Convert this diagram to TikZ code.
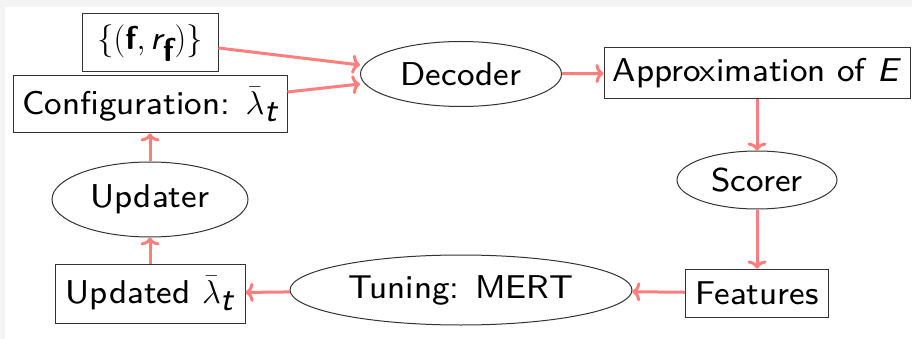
\RequirePackage{fix-cm}
\documentclass[tikz,border=0pt]{standalone}
\usepackage{fontspec}
\setsansfont{lmsans8-regular.otf}[BoldFont=lmsans10-bold.otf, ItalicFont=lmsans8-oblique.otf]
\usetikzlibrary{shapes.geometric,arrows.meta}
\definecolor{arr}{RGB}{255,125,125}
\definecolor{frame}{RGB}{244,244,244}
\newcommand{\lbt}{$\bar{\lambda}_{\textsf{\itshape t}}$}
\begin{document}
\begin{tikzpicture}[x=1pt,y=-1pt,
  every node/.style={font=\fontsize{33}{40}\selectfont\sffamily, inner sep=0pt, draw=black!80, line width=1pt},
  boxnode/.style={rectangle},
  ellnode/.style={ellipse},
  conn/.style={draw=arr, line width=3pt, -{To[length=8pt,width=19pt]}}]
\fill[frame] (0,0) rectangle (912,339);
\fill[white] (5,7) rectangle (912,339);
\useasboundingbox (0,0) rectangle (912,339);
\node[boxnode, minimum width=136pt, minimum height=58pt] (fset) at (150,43) {$\{(\textsf{\bfseries f}, \textsf{\itshape r}_{\textsf{\bfseries f}})\}$};
\node[boxnode, minimum width=274pt, minimum height=57pt] (config) at (150,104.5) {Configuration: \lbt};
\node[ellnode, minimum width=201pt, minimum height=65pt] (dec) at (461,74) {Decoder};
\node[boxnode, minimum width=306pt, minimum height=51pt] (approx) at (757,73) {Approximation of \textit{E}};
\node[ellnode, minimum width=160pt, minimum height=58pt] (scorer) at (757,180) {Scorer};
\node[boxnode, minimum width=143pt, minimum height=48pt] (feat) at (757,293) {Features};
\node[ellnode, minimum width=342pt, minimum height=70pt] (tune) at (461,290) {Tuning: MERT};
\node[boxnode, minimum width=190pt, minimum height=59pt] (upd) at (150,293.5) {Updated \lbt};
\node[ellnode, minimum width=196pt, minimum height=75pt] (updater) at (150,199.5) {Updater};
\draw[conn] (fset.east |- 0,48) -- (dec.west |- 0,65);
\draw[conn] (config.east |- 0,92) -- (dec.west |- 0,84);
\draw[conn] (dec) -- (approx);
\draw[conn] (approx) -- (scorer);
\draw[conn] (scorer) -- (feat);
\draw[conn] (feat) -- (tune);
\draw[conn] (tune) -- (upd);
\draw[conn] (upd) -- (updater);
\draw[conn] (updater) -- (config);
\end{tikzpicture}
\end{document}
